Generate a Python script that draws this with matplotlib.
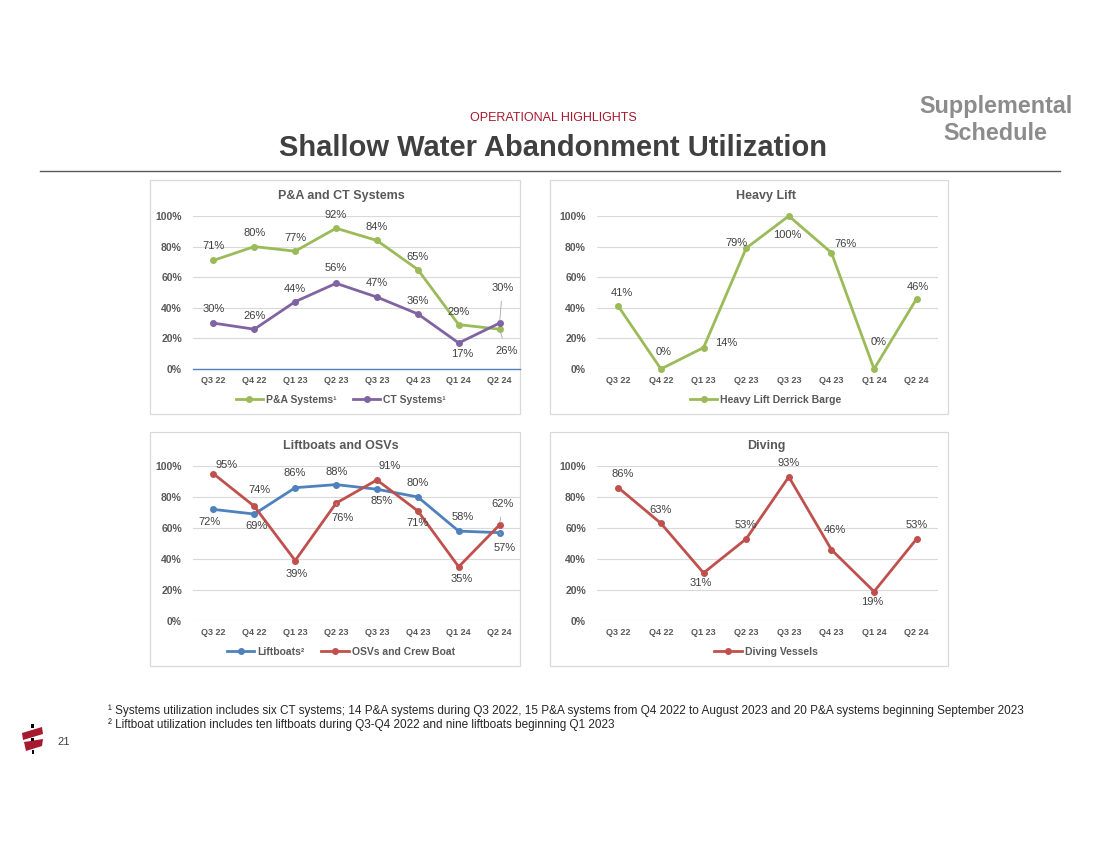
import matplotlib
matplotlib.use("Agg")
import matplotlib.pyplot as plt
from matplotlib.patches import Rectangle, Polygon

plt.rcParams["font.family"] = ["Liberation Sans", "DejaVu Sans"]

W, H = 1100, 849

quarters = ["Q3 22", "Q4 22", "Q1 23", "Q2 23", "Q3 23", "Q4 23", "Q1 24", "Q2 24"]
pa_systems = [71, 80, 77, 92, 84, 65, 29, 26]
ct_systems = [30, 26, 44, 56, 47, 36, 17, 30]
heavy_lift = [41, 0, 14, 79, 100, 76, 0, 46]
liftboats = [72, 69, 86, 88, 85, 80, 58, 57]
osvs = [95, 74, 39, 76, 91, 71, 35, 62]
diving = [86, 63, 31, 53, 93, 46, 19, 53]
y_ticks = [0, 20, 40, 60, 80, 100]

footnote1 = ("\u00b9 Systems utilization includes six CT systems; 14 P&A systems during Q3 2022, "
             "15 P&A systems from Q4 2022 to August 2023 and 20 P&A systems beginning September 2023")
footnote2 = ("\u00b2 Liftboat utilization includes ten liftboats during Q3-Q4 2022 and nine "
             "liftboats beginning Q1 2023")

# label placement: (dx, dy) in pixels, leader line flag
pa_pos = [(0, 14, 0), (0, 14, 0), (0, 13, 0), (0, 13, 0), (0, 13, 0), (0, 13, 0), (0, 13, 0), (7, -22, 1)]
ct_pos = [(0, 14, 0), (0, 13, 0), (0, 13, 0), (0, 15, 0), (0, 14, 0), (0, 13, 0), (4, -11, 0), (3, 35, 1)]
hl_pos = [(4, 13, 0), (3, 17, 0), (23, 5, 0), (-10, 5, 0), (-2, -19, 0), (14, 9, 0), (5, 27, 0), (1, 12, 0)]
lb_pos = [(-4, -13, 0), (2, -12, 0), (0, 15, 0), (1, 13, 0), (5, -12, 0), (0, 14, 0), (4, 14, 0), (5, -15, 1)]
osv_pos = [(13, 9, 0), (5, 16, 1), (1, -13, 0), (6, -15, 1), (13, 14, 1), (0, -12, 0), (3, -12, 0), (3, 21, 1)]
dv_pos = [(4, 14, 0), (0, 13, 0), (-3, -10, 0), (0, 14, 0), (0, 14, 0), (3, 20, 0), (-2, -10, 0), (0, 14, 0)]

GREEN = "#9BBB59"
PURPLE = "#8064A2"
BLUE = "#4F81BD"
RED = "#C0504D"
TXT = "#595959"


def px_rect(x0, y0, x1, y1):
    return [x0 / W, 1 - y1 / H, (x1 - x0) / W, (y1 - y0) / H]


def fpt(x, y):
    return (x / W, 1 - y / H)


fig = plt.figure(figsize=(11, 8.49), dpi=100)


def panel(box, area, title, title_xy, series, legend_xy, blue_base=False):
    bx0, by0, bx1, by1 = box
    fig.patches.append(Rectangle(fpt(bx0, by1), (bx1 - bx0) / W, (by1 - by0) / H,
                                 transform=fig.transFigure, fc="white", ec="#D9D9D9",
                                 lw=0.9, zorder=-5))
    ax = fig.add_axes(px_rect(*area))
    ax.patch.set_alpha(0)
    ax.set_xlim(-0.5, 7.5)
    ax.set_ylim(0, 100)
    ax.set_yticks(y_ticks)
    ax.set_yticklabels([f"{t}%" for t in y_ticks])
    ax.set_xticks(range(len(quarters)))
    ax.set_xticklabels(quarters)
    ax.grid(axis="y", color="#D9D9D9", lw=0.8)
    ax.set_axisbelow(True)
    for s in ax.spines.values():
        s.set_visible(False)
    ax.tick_params(length=0, labelcolor=TXT)
    ax.tick_params(axis="y", pad=8, labelsize=7.5)
    ax.tick_params(axis="x", pad=5, labelsize=6.5)
    for lab in ax.get_xticklabels() + ax.get_yticklabels():
        lab.set_fontweight("bold")
    if blue_base:
        ax.axhline(0, color=BLUE, lw=1.0, clip_on=False, zorder=2)

    handles = []
    for vals, color, name, pos in series:
        ln, = ax.plot(range(len(vals)), vals, color=color, lw=2.0, marker="o",
                      markersize=4, label=name, clip_on=False, zorder=3)
        handles.append(ln)
        for i, v in enumerate(vals):
            dx, dy, lead = pos[i]
            kw = {}
            if lead:
                kw["arrowprops"] = dict(arrowstyle="-", color="#A6A6A6", lw=0.6,
                                        shrinkA=4, shrinkB=2)
            ax.annotate(f"{v}%", (i, v), xytext=(dx, dy), textcoords="offset pixels",
                        ha="center", va="center", fontsize=8, color="#404040",
                        annotation_clip=False, zorder=4, **kw)

    fig.text(*fpt(*title_xy), title, ha="center", va="center", fontsize=9,
             fontweight="bold", color=TXT)
    ax.legend(handles=handles, loc="center", bbox_to_anchor=fpt(*legend_xy),
              bbox_transform=fig.transFigure, ncol=2, frameon=False,
              prop=dict(weight="bold", size=7.5), labelcolor=TXT,
              handlelength=2.6, handletextpad=0.3, columnspacing=1.6, borderpad=0)
    return ax


panel((150, 180, 520, 414), (193, 216, 520, 369), "P&A and CT Systems", (341, 196),
      [(pa_systems, GREEN, "P&A Systems\u00b9", pa_pos),
       (ct_systems, PURPLE, "CT Systems\u00b9", ct_pos)], (341, 400), blue_base=True)
panel((550, 180, 948, 414), (597, 216, 938, 369), "Heavy Lift", (766, 196),
      [(heavy_lift, GREEN, "Heavy Lift Derrick Barge", hl_pos)], (766, 400))
panel((150, 432, 520, 666), (193, 466, 520, 621), "Liftboats and OSVs", (341, 446),
      [(liftboats, BLUE, "Liftboats\u00b2", lb_pos),
       (osvs, RED, "OSVs and Crew Boat", osv_pos)], (341, 652))
panel((550, 432, 948, 666), (597, 466, 938, 621), "Diving", (766, 446),
      [(diving, RED, "Diving Vessels", dv_pos)], (766, 652))

# header
fig.text(*fpt(553, 118), "OPERATIONAL HIGHLIGHTS", ha="center", va="center",
         fontsize=9, color="#A6192E")
fig.text(*fpt(553, 148), "Shallow Water Abandonment Utilization", ha="center", va="center",
         fontsize=21, fontweight="bold", color="#404040")
fig.text(*fpt(996, 107), "Supplemental", ha="center", va="center", fontsize=16.8,
         fontweight="bold", color="#8C8C8C")
fig.text(*fpt(995, 133), "Schedule", ha="center", va="center", fontsize=16.8,
         fontweight="bold", color="#8C8C8C")
fig.add_artist(plt.Line2D([40 / W, 1060 / W], [1 - 171 / H, 1 - 171 / H],
                          color="#595959", lw=1.0, transform=fig.transFigure))

# footnotes
fig.text(*fpt(108, 711), footnote1, ha="left", va="center", fontsize=8.5, color="#262626")
fig.text(*fpt(108, 725), footnote2, ha="left", va="center", fontsize=8.5, color="#262626")
fig.text(*fpt(57, 742), "21", ha="left", va="center", fontsize=8, color="#404040")

# small logo
LOGO_RED = "#A6192E"
for pts in ([(22, 733), (42, 727), (43, 734), (23, 740)],
            [(24, 742), (43, 739), (42, 746), (26, 751)]):
    fig.patches.append(Polygon([fpt(x, y) for x, y in pts], closed=True,
                               transform=fig.transFigure, fc=LOGO_RED, ec="none"))
for x, y, w, h in ((31, 724, 3, 4), (31, 738, 3, 3), (32, 750, 1.5, 4)):
    fig.patches.append(Rectangle(fpt(x, y + h), w / W, h / H, transform=fig.transFigure,
                                 fc="black", ec="none"))

fig.savefig("out.png", dpi=100)
